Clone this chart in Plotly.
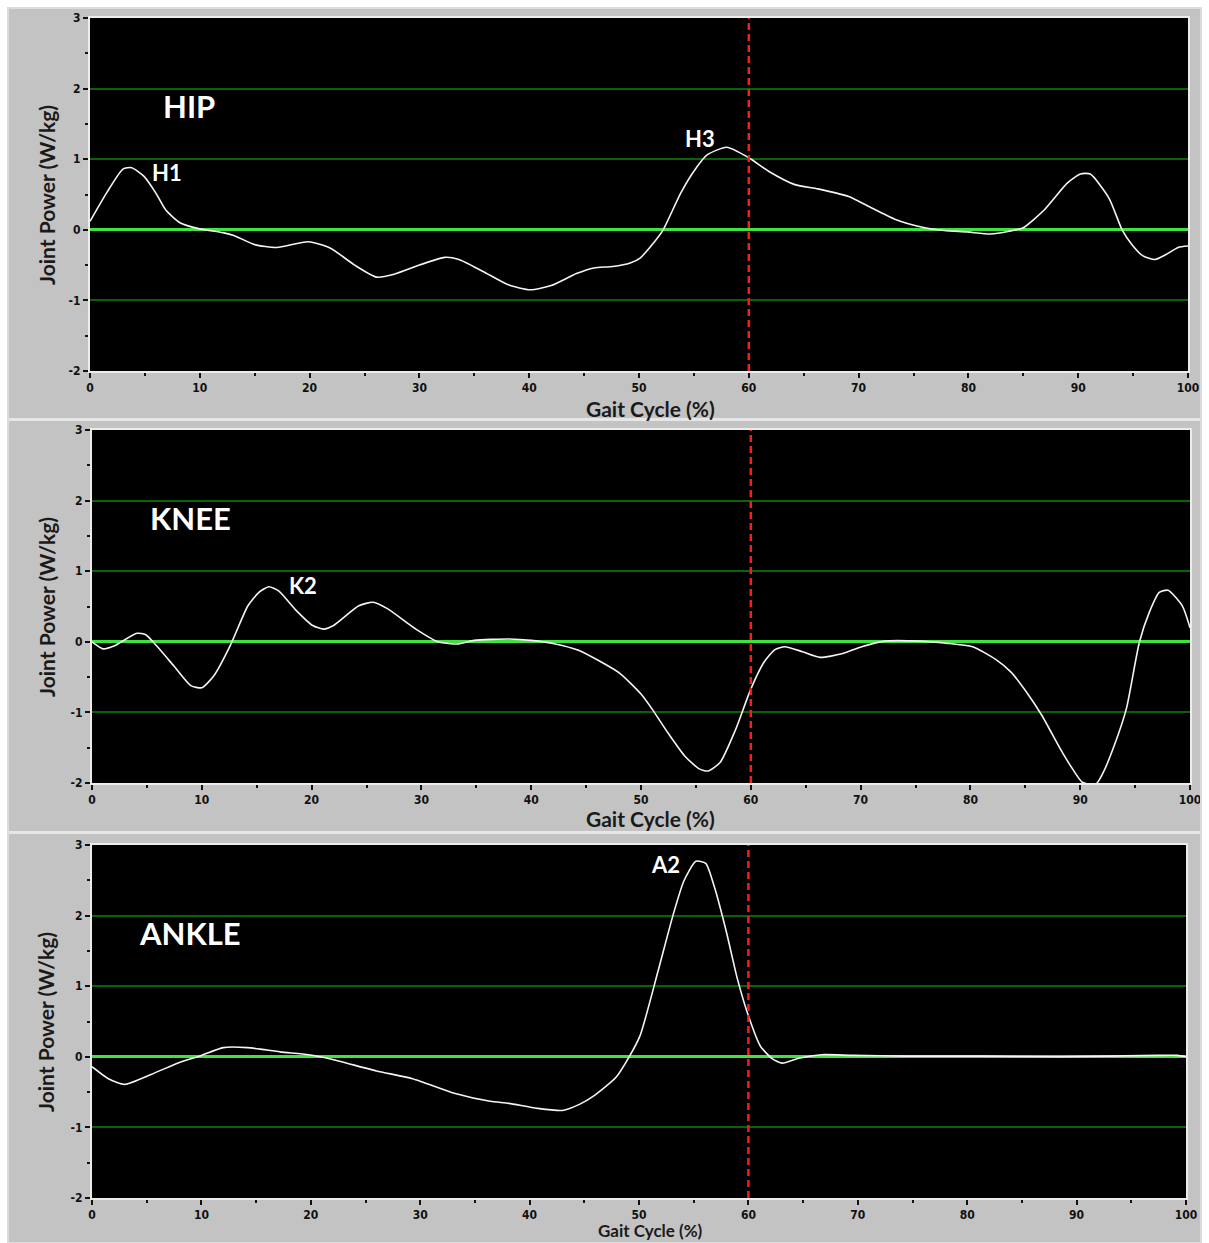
import plotly.graph_objects as go

# ---------------- data ----------------
HIP_X = [0, 1.5, 3.0, 3.8, 4.9, 6.0, 6.9, 8.2, 9.8, 12.1, 13.1, 15.0, 17.0, 19.9, 21.9, 24.1, 26.1, 27.7,
         30.0, 32.3, 33.6, 35.8, 38.1, 40.1, 42.0, 44.3, 45.9, 47.6, 49.2, 50.1, 51.3, 52.2, 53.8, 55.0,
         56.2, 58.0, 60.0, 61.8, 64.2, 66.3, 69.1, 70.8, 73.3, 75.7, 77.8, 79.9, 82.0, 83.7, 85.0, 86.9,
         89.0, 90.2, 91.1, 92.8, 94.0, 94.9, 95.9, 97.0, 98.0, 99.1, 100]
HIP_Y = [0.12, 0.52, 0.86, 0.88, 0.76, 0.52, 0.28, 0.10, 0.02, -0.04, -0.08, -0.21, -0.25, -0.17, -0.26,
         -0.5, -0.67, -0.63, -0.5, -0.39, -0.42, -0.59, -0.78, -0.85, -0.79, -0.62, -0.54, -0.52, -0.47,
         -0.4, -0.19, 0.0, 0.52, 0.83, 1.06, 1.17, 1.02, 0.83, 0.64, 0.58, 0.47, 0.34, 0.15, 0.04, -0.01,
         -0.03, -0.06, -0.02, 0.03, 0.28, 0.66, 0.79, 0.79, 0.45, 0.0, -0.21, -0.37, -0.42, -0.35, -0.25, -0.23]

KNEE_X = [0, 1.0, 2.0, 4.1, 4.9, 5.9, 7.5, 9.0, 10.0, 11.1, 12.6, 14.2, 15.2, 16.1, 17.0, 18.5, 20.1, 21.1,
          22.0, 24.3, 25.6, 26.9, 29.5, 31.5, 33.4, 34.8, 38.0, 40.0, 42.2, 44.3, 46.3, 48.1, 50.0, 51.0,
          52.5, 54.0, 55.3, 56.1, 57.2, 58.6, 60.0, 61.2, 62.2, 63.1, 64.7, 66.3, 68.3, 70.1, 72.2, 75.3,
          77.8, 80.2, 82.3, 83.7, 85.1, 86.5, 88.2, 89.3, 90.2, 91.4, 92.1, 93.1, 94.2, 95.4, 96.3, 97.2,
          98.0, 99.3, 100]
KNEE_Y = [0, -0.1, -0.06, 0.12, 0.1, -0.06, -0.35, -0.62, -0.65, -0.48, -0.05, 0.51, 0.7, 0.78, 0.72, 0.46,
          0.23, 0.18, 0.23, 0.51, 0.56, 0.47, 0.18, 0.0, -0.03, 0.02, 0.04, 0.02, -0.03, -0.12, -0.28, -0.45,
          -0.74, -0.95, -1.3, -1.62, -1.8, -1.83, -1.71, -1.25, -0.67, -0.29, -0.11, -0.07, -0.14, -0.22,
          -0.17, -0.07, 0.01, 0.01, -0.02, -0.07, -0.25, -0.43, -0.71, -1.04, -1.52, -1.8, -1.99, -2.02,
          -1.85, -1.47, -0.95, 0.0, 0.42, 0.7, 0.73, 0.51, 0.2]

ANKLE_X = [0, 1.5, 3.0, 5.4, 8.0, 10.0, 12.0, 14.2, 17.2, 19.8, 21.8, 26.0, 29.3, 33.2, 36.4, 38.1, 40.7,
           43.0, 44.6, 45.9, 47.9, 49.1, 50.1, 51.7, 53.1, 54.1, 55.2, 56.1, 56.9, 58.0, 59.0, 60.0, 61.1,
           62.2, 63.1, 64.6, 66.7, 69.5, 74.4, 81.4, 88.4, 97.5, 99.2, 100]
ANKLE_Y = [-0.14, -0.31, -0.39, -0.25, -0.08, 0.02, 0.13, 0.13, 0.07, 0.03, -0.03, -0.2, -0.31, -0.52,
           -0.63, -0.66, -0.73, -0.76, -0.67, -0.55, -0.29, 0.0, 0.3, 1.19, 2.0, 2.49, 2.77, 2.74, 2.4,
           1.76, 1.1, 0.58, 0.15, -0.03, -0.09, -0.02, 0.03, 0.02, 0.01, 0.01, 0.0, 0.02, 0.02, 0.0]

TOE_OFF = 60
PANEL_NAMES = ["HIP", "KNEE", "ANKLE"]
PEAK_LABELS = [[("H1", 7.0, 0.81), ("H3", 55.6, 1.29)],
               [("K2", 19.2, 0.80)],
               [("A2", 52.4, 2.73)]]
X_TICKS = list(range(0, 101, 10))
X_TICKTEXT = [str(v) for v in X_TICKS]
Y_TICKS = [-2, -1, 0, 1, 2, 3]
Y_TICKTEXT = ["-2", "-1", "0", "1", "2", "3"]
X_TITLE = "Gait Cycle (%)"
Y_TITLE = "Joint Power (W/kg)"

# ---------------- layout geometry (window pixels) ----------------
W, H = 1209, 1243
def px(x): return x / W
def py(y): return 1 - y / H

# plot areas: (left, right, top, bottom)
PLOTS = [(90, 1188, 18, 371), (92, 1190, 430, 783), (92, 1186, 845, 1198)]
# x-axis title: (centre x, y, vertical anchor, font size)
XTITLE_POS = [(650, 408, "middle", 21), (650, 818, "middle", 21), (650, 1243, "bottom", 17)]
YTITLE_POS = [(46, 195), (46, 607), (46, 1022)]

fig = go.Figure()
series = [(HIP_X, HIP_Y), (KNEE_X, KNEE_Y), (ANKLE_X, ANKLE_Y)]

tickfont = dict(family="Liberation Sans Narrow, DejaVu Sans Condensed, Arial Narrow, sans-serif",
                size=12, color="#111111", weight="bold")
TITLE_FAMILY = "Lato, Open Sans, sans-serif"

shapes = []
annotations = []
for i, ((xs, ys), (l, r, t, b)) in enumerate(zip(series, PLOTS)):
    n = "" if i == 0 else str(i + 1)
    fig.add_trace(go.Scatter(x=xs, y=ys, mode="lines", xaxis="x" + n, yaxis="y" + n,
                             line=dict(color="#f4f4f4", width=1.6, shape="spline", smoothing=0.6),
                             showlegend=False, hoverinfo="x+y"))
    fig.update_layout(**{
        "xaxis" + n: dict(domain=[px(l), px(r)], range=[0, 100], anchor="y" + n, automargin=False,
                          tickvals=X_TICKS, ticktext=X_TICKTEXT, ticks="outside", ticklen=5, tickwidth=2,
                          tickcolor="#111111",
                          minor=dict(dtick=5, tick0=0, ticks="outside", ticklen=3, tickwidth=2,
                                     tickcolor="#111111", showgrid=False),
                          showgrid=False, zeroline=False, showline=True, linecolor="#ececec",
                          linewidth=2, mirror=True, tickfont=tickfont, fixedrange=True),
        "yaxis" + n: dict(domain=[py(b), py(t)], range=[-2, 3], anchor="x" + n, automargin=False,
                          tickvals=Y_TICKS, ticktext=Y_TICKTEXT, ticks="outside", ticklen=5, tickwidth=2,
                          tickcolor="#111111",
                          minor=dict(dtick=0.5, tick0=0, ticks="outside", ticklen=3, tickwidth=2,
                                     tickcolor="#111111", showgrid=False),
                          showgrid=True, gridcolor="#0b620b", gridwidth=2,
                          zeroline=True, zerolinecolor="#3fe33f", zerolinewidth=3,
                          showline=True, linecolor="#ececec", linewidth=2, mirror=True,
                          tickfont=tickfont, fixedrange=True),
    })
    # red dashed toe-off line
    shapes.append(dict(type="line", xref="x" + n, yref="y" + n + " domain", x0=TOE_OFF, x1=TOE_OFF,
                       y0=0, y1=1, line=dict(color="#ff1a1a", width=2.5, dash="7px,4px"), layer="above"))
    # panel name
    annotations.append(dict(text="<b>%s</b>" % PANEL_NAMES[i], x=9.0, y=1.76, xref="x" + n, yref="y" + n,
                            showarrow=False, font=dict(family=TITLE_FAMILY, size=31, color="white")))
    for (lab, lx, ly) in PEAK_LABELS[i]:
        annotations.append(dict(text="<b>%s</b>" % lab, x=lx, y=ly, xref="x" + n, yref="y" + n,
                                showarrow=False, font=dict(family=TITLE_FAMILY, size=22, color="white")))
    xt = XTITLE_POS[i]
    annotations.append(dict(text="<b>%s</b>" % X_TITLE, x=px(xt[0]), y=py(xt[1]), xref="paper", yref="paper",
                            showarrow=False, xanchor="center", yanchor=xt[2],
                            font=dict(family=TITLE_FAMILY, size=xt[3], color="#1a1a1a")))
    yt = YTITLE_POS[i]
    annotations.append(dict(text="<b>%s</b>" % Y_TITLE, x=px(yt[0]), y=py(yt[1]), xref="paper", yref="paper",
                            showarrow=False, textangle=-90, xanchor="center", yanchor="middle",
                            font=dict(family=TITLE_FAMILY, size=21, color="#1a1a1a")))

# white outer frame strips (outside every plot area)
for (x0, x1, y0, y1) in [(0, 8, 0, H), (0, W, 0, 8), (1201, W, 0, H)]:
    shapes.append(dict(type="rect", xref="paper", yref="paper", x0=px(x0), x1=px(x1), y0=py(y1), y1=py(y0),
                       fillcolor="white", line=dict(width=0), layer="above"))
# light separators between the three panels
for ys in [419.5, 832.5]:
    shapes.append(dict(type="line", xref="paper", yref="paper", x0=px(8), x1=px(1201), y0=py(ys), y1=py(ys),
                       line=dict(color="#e6e6e6", width=3), layer="above"))
# thin light edge of the gray frame
shapes.append(dict(type="rect", xref="paper", yref="paper", x0=px(8), x1=px(1201), y0=0, y1=py(8),
                   fillcolor="rgba(0,0,0,0)", line=dict(color="#dcdcdc", width=2), layer="above"))

fig.update_layout(width=W, height=H, margin=dict(l=0, r=0, t=0, b=0, autoexpand=False), autosize=False,
                  paper_bgcolor="#c3c3c3", plot_bgcolor="black",
                  shapes=shapes, annotations=annotations, showlegend=False)

fig.write_html("out.html", config={"displayModeBar": False})
